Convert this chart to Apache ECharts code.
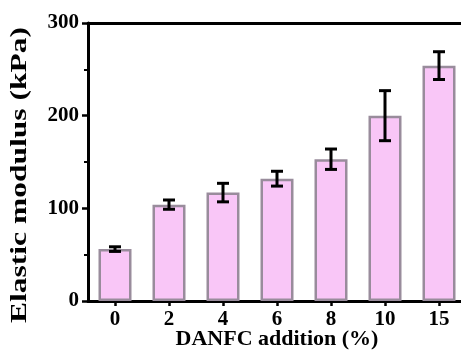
<!DOCTYPE html>
<html>
<head>
<meta charset="utf-8">
<script src="https://cdn.jsdelivr.net/npm/echarts@6/dist/echarts.min.js"></script>
<style>
  html, body { margin: 0; padding: 0; background: #ffffff; }
  #chart { width: 461px; height: 350px; }
</style>
</head>
<body>
<div id="chart"></div>
<script>
// DANFC content (%) on the x axis
const categories = ['0', '2', '4', '6', '8', '10', '15'];
// Mean elastic modulus (kPa)
const modulus = [56, 104, 117, 132, 153, 200, 254];
// Standard deviation (kPa)
const deviation = [2.5, 5, 10, 8, 11, 27, 15];
// Y axis tick values
const yTicks = [0, 100, 200, 300];

const FONT = '"Liberation Serif", "Times New Roman", serif';

const errorData = categories.map((c, i) => [i, modulus[i] - deviation[i], modulus[i] + deviation[i]]);

const chart = echarts.init(document.getElementById('chart'), null, { renderer: 'canvas' });

chart.setOption({
  backgroundColor: '#ffffff',
  animation: false,
  grid: { left: 88, top: 23, width: 378, bottom: 49, containLabel: false, outerBoundsMode: 'none' },
  xAxis: [
    {
      type: 'category',
      data: categories,
      position: 'bottom',
      axisLine: { show: true, lineStyle: { color: '#000', width: 3 } },
      axisTick: { show: true, alignWithLabel: true, length: 5, lineStyle: { color: '#000', width: 2.5 } },
      axisLabel: { color: '#000', fontFamily: FONT, fontWeight: 'bold', fontSize: 21, margin: 8 },
      name: 'DANFC addition (%)',
      nameLocation: 'middle',
      nameMoveOverlap: false,
      nameGap: 27,
      nameTextStyle: { color: '#000', fontFamily: FONT, fontWeight: 'bold', fontSize: 22 }
    },
    {
      type: 'category',
      data: categories,
      position: 'top',
      axisLine: { show: true, lineStyle: { color: '#000', width: 3 } },
      axisTick: { show: false },
      axisLabel: { show: false }
    }
  ],
  yAxis: {
    type: 'value',
    min: yTicks[0],
    max: yTicks[yTicks.length - 1],
    interval: 100,
    axisLine: { show: true, lineStyle: { color: '#000', width: 3 } },
    axisTick: { show: true, length: 6, lineStyle: { color: '#000', width: 2.5 } },
    minorTick: { show: true, splitNumber: 2, length: 4, lineStyle: { color: '#000', width: 2 } },
    splitLine: { show: false },
    axisLabel: { color: '#000', fontFamily: FONT, fontWeight: 'bold', fontSize: 21, margin: 9 }
  },
  graphic: [
    {
      // Axis title, stretched along its length
      type: 'text',
      rotation: Math.PI / 2,
      scaleX: 1.37,
      scaleY: 1,
      x: 20, y: 175,
      style: {
        text: 'Elastic modulus (kPa)',
        fill: '#000',
        font: 'bold 23px ' + FONT,
        align: 'center',
        verticalAlign: 'middle'
      }
    }
  ],
  series: [
    {
      type: 'bar',
      data: modulus,
      barWidth: 33,
      itemStyle: { color: '#f9c6f7', borderColor: '#998c9c', borderWidth: 2.5 }
    },
    {
      type: 'custom',
      data: errorData,
      z: 10,
      renderItem: function (params, api) {
        const x = api.value(0);
        const lo = api.coord([x, api.value(1)]);
        const hi = api.coord([x, api.value(2)]);
        const hw = 6;
        const style = { stroke: '#000', lineWidth: 3 };
        return {
          type: 'group',
          children: [
            { type: 'line', shape: { x1: lo[0], y1: lo[1], x2: hi[0], y2: hi[1] }, style: style },
            { type: 'line', shape: { x1: hi[0] - hw, y1: hi[1], x2: hi[0] + hw, y2: hi[1] }, style: style },
            { type: 'line', shape: { x1: lo[0] - hw, y1: lo[1], x2: lo[0] + hw, y2: lo[1] }, style: style }
          ]
        };
      }
    }
  ]
});
</script>
</body>
</html>
